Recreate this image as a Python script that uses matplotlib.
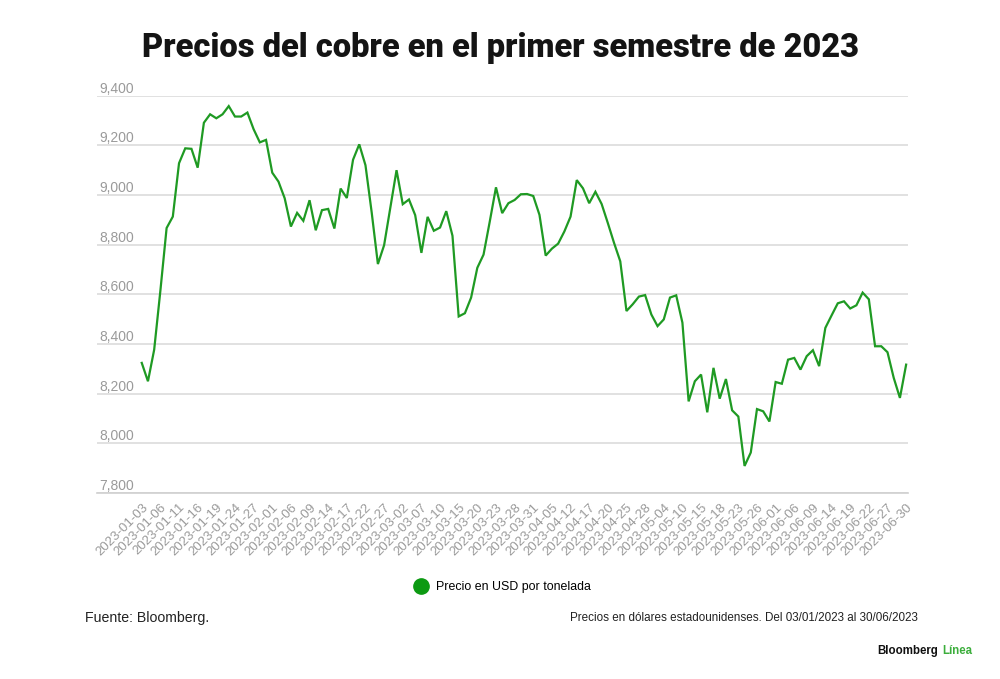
import matplotlib
matplotlib.use("Agg")
import matplotlib.pyplot as plt
from matplotlib.lines import Line2D

# ---------------- data ----------------
trading_days = {
    "01": [3, 4, 5, 6, 9, 10, 11, 12, 13, 16, 17, 18, 19, 20, 23, 24, 25, 26, 27, 30, 31],
    "02": [1, 2, 3, 6, 7, 8, 9, 10, 13, 14, 15, 16, 17, 20, 21, 22, 23, 24, 27, 28],
    "03": [1, 2, 3, 6, 7, 8, 9, 10, 13, 14, 15, 16, 17, 20, 21, 22, 23, 24, 27, 28, 29, 30, 31],
    "04": [3, 4, 5, 6, 11, 12, 13, 14, 17, 18, 19, 20, 21, 24, 25, 26, 27, 28],
    "05": [2, 3, 4, 5, 9, 10, 11, 12, 15, 16, 17, 18, 19, 22, 23, 24, 25, 26, 30, 31],
    "06": [1, 2, 5, 6, 7, 8, 9, 12, 13, 14, 15, 16, 19, 20, 21, 22, 23, 26, 27, 28, 29, 30],
}
dates = [f"2023-{m}-{d:02d}" for m, days in trading_days.items() for d in days]

precio = [
    8324, 8250, 8377, 8615, 8867, 8913, 9128, 9188, 9186, 9110,
    9291, 9325, 9309, 9325, 9358, 9316, 9316, 9332, 9265, 9212,
    9222, 9090, 9054, 8987, 8873, 8928, 8896, 8979, 8858, 8939,
    8944, 8865, 9026, 8988, 9142, 9204, 9120, 8930, 8722, 8798,
    8949, 9100, 8963, 8982, 8919, 8767, 8912, 8856, 8869, 8935,
    8836, 8511, 8524, 8587, 8707, 8760, 8893, 9031, 8927, 8967,
    8980, 9003, 9004, 8996, 8920, 8756, 8784, 8804, 8853, 8913,
    9060, 9027, 8967, 9013, 8964, 8887, 8807, 8733, 8533, 8560,
    8591, 8597, 8519, 8472, 8499, 8587, 8596, 8486, 8169, 8250,
    8277, 8125, 8304, 8180, 8259, 8133, 8108, 7909, 7963, 8138,
    8129, 8088, 8247, 8240, 8337, 8344, 8297, 8351, 8375, 8311,
    8465, 8515, 8564, 8572, 8543, 8556, 8607, 8580, 8391, 8391,
    8367, 8264, 8183, 8317,
]
y_ticks = [7800, 8000, 8200, 8400, 8600, 8800, 9000, 9200, 9400]

title = "Precios del cobre en el primer semestre de 2023"
serie = "Precio en USD por tonelada"
fuente = "Fuente: Bloomberg."
nota = "Precios en dólares estadounidenses. Del 03/01/2023 al 30/06/2023"

# ---------------- style ----------------
GREEN = "#1f9a23"
GRAY = "#9a9a9a"
GRID = "#dedede"

fig = plt.figure(figsize=(10, 6.79), dpi=100)
ax = fig.add_axes([0.097, 0.2739, 0.811, 0.5852])

x = list(range(len(dates)))
ax.plot(x, precio, color=GREEN, lw=1.6, solid_joinstyle="miter")

ax.set_xlim(-7.2, len(dates) - 1 + 0.3)
ax.set_ylim(7800, 9400)

for s in ["top", "right", "left"]:
    ax.spines[s].set_visible(False)
ax.spines["bottom"].set_color("#cfcfcf")
ax.spines["bottom"].set_linewidth(1.2)

ax.set_yticks(y_ticks)
ax.yaxis.grid(True, color=GRID, lw=1.3)
ax.set_axisbelow(True)
ax.tick_params(axis="y", length=0, labelleft=False)
for v in y_ticks:
    ax.annotate(f"{v:,}", xy=(0.003, v), xycoords=ax.get_yaxis_transform(),
                xytext=(0, 0), textcoords="offset points",
                ha="left", va="bottom", color=GRAY, fontsize=10,
                family="Liberation Sans")

tick_idx = x[::3]
ax.set_xticks(tick_idx)
ax.set_xticklabels([dates[i] for i in tick_idx], rotation=45, ha="right",
                   rotation_mode="anchor", color=GRAY, fontsize=9.5,
                   family="Liberation Sans")
ax.tick_params(axis="x", length=0, pad=6)

fig.text(0.5, 0.929, title, ha="center", va="center", fontsize=23.5,
         fontweight="heavy", family="Roboto", color="#141414")

handle = Line2D([], [], marker="o", color="#0c9a12", linestyle="",
                markersize=11)
fig.legend(handles=[handle], labels=[serie], loc="center",
           bbox_to_anchor=(0.5, 0.1355), frameon=False, handletextpad=0.2,
           prop={"family": "Liberation Sans", "size": 8.9})

fig.text(0.085, 0.0905, fuente, ha="left", va="center", fontsize=10.2,
         family="Liberation Sans", color="#222222")
fig.text(0.918, 0.0905, nota, ha="right", va="center", fontsize=8.4,
         family="Liberation Sans", color="#222222")
fig.text(0.972, 0.0412, "Línea", ha="right", va="center", fontsize=8.3,
         fontweight="bold", family="Liberation Sans", color="#3cae3c")
fig.text(0.938, 0.0412, "Bloomberg", ha="right", va="center", fontsize=8.3,
         fontweight="bold", family="Liberation Sans", color="#111111")

fig.savefig("out.png", dpi=100, facecolor="white")
